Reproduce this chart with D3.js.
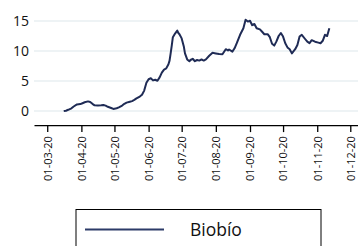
<!DOCTYPE html>
<html><head><meta charset="utf-8">
<script src="https://cdn.jsdelivr.net/npm/d3@7"></script>
<style>html,body{margin:0;padding:0;background:#fff;}svg{display:block;font-family:"Open Sans",sans-serif;}</style>
</head><body>
<svg id="c" width="358" height="246"></svg>
<script>
const seriesName = "Biobío";
const dates = ["2020-03-16","2020-03-18","2020-03-20","2020-03-23","2020-03-25","2020-03-28","2020-03-31","2020-04-02","2020-04-04","2020-04-07","2020-04-09","2020-04-11","2020-04-13","2020-04-16","2020-04-19","2020-04-21","2020-04-23","2020-04-25","2020-04-28","2020-04-30","2020-05-03","2020-05-05","2020-05-08","2020-05-10","2020-05-12","2020-05-15","2020-05-17","2020-05-19","2020-05-21","2020-05-24","2020-05-26","2020-05-28","2020-05-30","2020-06-01","2020-06-03","2020-06-05","2020-06-07","2020-06-09","2020-06-11","2020-06-13","2020-06-15","2020-06-17","2020-06-19","2020-06-20","2020-06-21","2020-06-22","2020-06-23","2020-06-25","2020-06-27","2020-06-28","2020-06-29","2020-07-01","2020-07-03","2020-07-04","2020-07-06","2020-07-08","2020-07-09","2020-07-11","2020-07-13","2020-07-15","2020-07-17","2020-07-19","2020-07-21","2020-07-23","2020-07-26","2020-07-29","2020-08-01","2020-08-04","2020-08-07","2020-08-10","2020-08-12","2020-08-13","2020-08-16","2020-08-18","2020-08-20","2020-08-23","2020-08-26","2020-08-28","2020-08-30","2020-09-01","2020-09-03","2020-09-05","2020-09-07","2020-09-10","2020-09-12","2020-09-14","2020-09-17","2020-09-19","2020-09-21","2020-09-23","2020-09-25","2020-09-27","2020-09-29","2020-10-01","2020-10-03","2020-10-05","2020-10-07","2020-10-09","2020-10-12","2020-10-14","2020-10-16","2020-10-18","2020-10-21","2020-10-23","2020-10-25","2020-10-27","2020-10-30","2020-11-02","2020-11-04","2020-11-06","2020-11-08","2020-11-10","2020-11-12"];
const values = [0.0,0.05,0.2,0.45,0.75,1.1,1.15,1.3,1.45,1.6,1.5,1.2,0.95,0.9,0.95,1.0,0.9,0.7,0.5,0.35,0.45,0.6,0.9,1.2,1.4,1.55,1.65,1.85,2.1,2.4,2.7,3.4,4.7,5.3,5.45,5.1,5.2,5.05,5.6,6.4,6.9,7.1,7.8,8.4,9.6,10.9,12.3,12.9,13.4,13.0,12.8,12.1,10.7,9.6,8.6,8.3,8.5,8.7,8.3,8.5,8.4,8.6,8.4,8.6,9.2,9.7,9.6,9.5,9.45,10.3,10.1,10.25,9.9,10.45,11.3,12.7,13.8,15.2,14.9,15.05,14.3,14.5,13.8,13.6,13.2,12.8,12.8,12.3,11.2,10.9,11.6,12.5,13.0,12.4,11.3,10.6,10.3,9.6,10.3,11.0,12.4,12.7,12.0,11.55,11.3,11.8,11.55,11.4,11.3,11.7,12.7,12.5,13.8];
const yTicks = [0, 5, 10, 15];
const xTickDates = ["2020-03-01","2020-04-01","2020-05-01","2020-06-01","2020-07-01","2020-08-01","2020-09-01","2020-10-01","2020-11-01","2020-12-01"];

const parse = d3.timeParse("%Y-%m-%d");
const data = dates.map((d, i) => ({date: parse(d), value: values[i]}));
const svg = d3.select("#c");

const x = d3.scaleTime().domain([parse("2020-02-18"), parse("2020-12-08")]).range([34, 358]);
const y = d3.scaleLinear().domain([-2.5, 17.5]).range([126, 6]);

// gridlines
svg.append("g").selectAll("line").data(yTicks).join("line")
  .attr("x1", x.range()[0]).attr("x2", x.range()[1])
  .attr("y1", d => y(d)).attr("y2", d => y(d))
  .attr("stroke", "#e9eff2").attr("stroke-width", 1.5);

// y labels
svg.append("g").selectAll("text").data(yTicks).join("text")
  .attr("x", 29).attr("y", d => y(d)).attr("dy", "0.36em")
  .attr("text-anchor", "end").attr("font-size", 14).attr("fill", "#111")
  .text(d => d);

// x axis
const axisY = y(-2.35);
const xAxis = d3.axisBottom(x)
  .tickValues(xTickDates.map(parse))
  .tickFormat(d3.timeFormat("%d-%m-%y"))
  .tickSize(7).tickSizeOuter(0);
const gx = svg.append("g").attr("transform", `translate(0,${axisY})`).call(xAxis);
gx.select(".domain").attr("stroke", "#000").attr("stroke-width", 1.3);
gx.selectAll(".tick line").attr("stroke", "#000").attr("stroke-width", 1.3);
gx.selectAll(".tick text")
  .attr("font-family", "Open Sans, sans-serif").attr("font-size", 11).attr("fill", "#111")
  .attr("text-anchor", "end")
  .attr("transform", "rotate(-90)")
  .attr("x", -11).attr("y", 0).attr("dy", "0.35em");

// line
const line = d3.line().x(d => x(d.date)).y(d => y(d.value)).curve(d3.curveLinear);
svg.append("path").datum(data)
  .attr("fill", "none").attr("stroke", "#1f2b55").attr("stroke-width", 2)
  .attr("stroke-linejoin", "round").attr("d", line);

// legend
const lg = svg.append("g");
lg.append("rect").attr("x", 76).attr("y", 209.5).attr("width", 245).attr("height", 50)
  .attr("fill", "none").attr("stroke", "#000").attr("stroke-width", 1);
lg.append("line").attr("x1", 85).attr("x2", 164).attr("y1", 229.5).attr("y2", 229.5)
  .attr("stroke", "#2c3b68").attr("stroke-width", 2);
lg.append("text").attr("x", 190).attr("y", 229.5).attr("dy", "0.36em")
  .attr("font-size", 17.5).attr("fill", "#111").text(seriesName);
</script>
</body></html>
